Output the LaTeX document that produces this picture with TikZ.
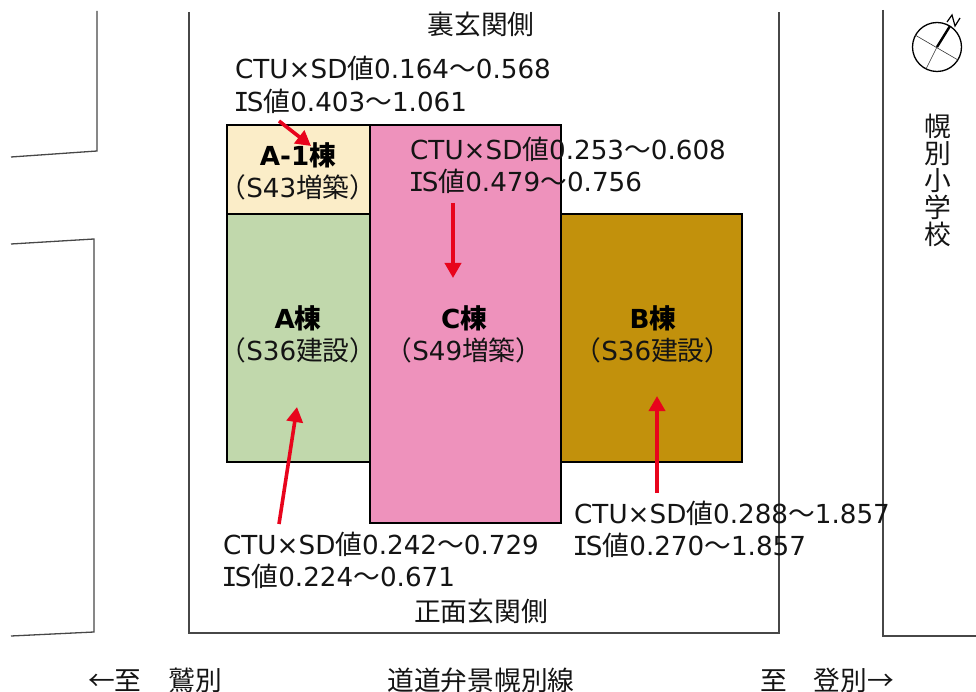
\documentclass[tikz,border=0pt]{standalone}
\usepackage{fontspec}
\setmainfont{DejaVu Sans}
\newfontfamily\jpf[Scale=1.02]{Noto Sans CJK JP}
\newfontfamily\monoI{DejaVu Sans Mono}
\newcommand{\J}[1]{{\jpf #1}}
\newcommand{\IS}{\kern-1.5pt{\monoI I}\kern-2.5ptS}
\usetikzlibrary{arrows.meta}
\definecolor{ink}{gray}{0.08}
\definecolor{redline}{RGB}{232,4,28}
\tikzset{
  bldg/.style={draw=black,line width=2.8pt,inner sep=0pt},
  site/.style={draw=black!72,line width=1.3pt},
  lbl/.style={anchor=base west,inner sep=0pt,font=\fontsize{26.2}{30}\selectfont,text=ink},
  ctr/.style={anchor=base,inner sep=0pt,font=\fontsize{26.2}{30}\selectfont,text=ink},
  bname/.style={anchor=base,inner sep=0pt,font=\fontsize{26.2}{30}\selectfont\bfseries,text=black},
  bsub/.style={anchor=base,inner sep=0pt,font=\fontsize{26.2}{30}\selectfont,text=ink},
  redarr/.style={draw=redline,line width=3.6pt,-{Triangle[length=15pt,width=16pt]}},
}
\begin{document}
\begin{tikzpicture}[x=1pt,y=-1pt]
\useasboundingbox (0,0) rectangle (976,692);
% site and road edges
\draw[site] (97,11) -- (97,151) -- (11,157);
\draw[site] (11,244) -- (94,239) -- (94,632) -- (11,636);
\draw[site] (189,12) -- (189,633) -- (779,633) -- (779,12);
\draw[site] (883,10) -- (883,636) -- (976,636);
% buildings
\filldraw[bldg,fill={rgb,255:red,251;green,237;blue,200}] (227,125) rectangle (370,214);
\filldraw[bldg,fill={rgb,255:red,193;green,216;blue,172}] (227,214) rectangle (370,462);
\filldraw[bldg,fill={rgb,255:red,194;green,145;blue,12}] (561,214) rectangle (742,462);
\filldraw[bldg,fill={rgb,255:red,238;green,146;blue,188}] (370,125) rectangle (561,523);
\node[bname] (a1n) at (298,166) {A-1\J{棟}};
\node[bsub] (a1s) at (298,198) {\J{（}S43\J{増築）}};
\node[bname] (an) at (298,328) {A\J{棟}};
\node[bsub] (as) at (298,360) {\J{（}S36\J{建設）}};
\node[bname] (cn) at (464,328) {C\J{棟}};
\node[bsub] (cs) at (464,360) {\J{（}S49\J{増築）}};
\node[bname] (bn) at (653,328) {B\J{棟}};
\node[bsub] (bs) at (653,360) {\J{（}S36\J{建設）}};
% value labels
\node[lbl] (t1) at (235,79) {CTU×SD\J{値}0.164\J{～}0.568};
\node[lbl] (t1b) at (235,112) {\IS\J{値}0.403\J{～}1.061};
\node[lbl] (t2) at (410,160) {CTU×SD\J{値}0.253\J{～}0.608};
\node[lbl] (t2b) at (410,192) {\IS\J{値}0.479\J{～}0.756};
\node[lbl] (t3) at (223,554) {CTU×SD\J{値}0.242\J{～}0.729};
\node[lbl] (t3b) at (223,586) {\IS\J{値}0.224\J{～}0.671};
\node[lbl] (t4) at (574,523) {CTU×SD\J{値}0.288\J{～}1.857};
\node[lbl] (t4b) at (574,555) {\IS\J{値}0.270\J{～}1.857};
% arrows
\coordinate (r1a) at (279,121); \coordinate (r1b) at (311,146);
\coordinate (r2a) at (453,203); \coordinate (r2b) at (453,278);
\coordinate (r3a) at (279,524); \coordinate (r3b) at (297,407);
\coordinate (r4a) at (657,493); \coordinate (r4b) at (657,396);
\draw[redarr] (r1a) -- (r1b);
\draw[redarr] (r2a) -- (r2b);
\draw[redarr] (r3a) -- (r3b);
\draw[redarr] (r4a) -- (r4b);
% street labels
\node[ctr] (back) at (481,35) {\J{裏玄関側}};
\node[ctr] (front) at (481,621) {\J{正面玄関側}};
\node[ctr] (road) at (481,690) {\J{道道弁景幌別線}};
\node[ctr] (west) at (155,690) {\J{←至　鷲別}};
\node[ctr] (east) at (827,690) {\J{至　登別→}};
\node[anchor=north,inner sep=0pt,align=center,font=\fontsize{26.2}{27}\selectfont,text=ink] (school) at (938,114) {\J{幌}\\\J{別}\\\J{小}\\\J{学}\\\J{校}};
% north mark
\coordinate (nc) at (937,47);
\draw[line width=1.3pt] (nc) circle (24.5);
\draw[line width=.6pt,black!80] (915,35) -- (958,60);
\draw[line width=.6pt,black!80] (926,69) -- (nc);
\draw[line width=2.4pt] (nc) -- (950,26);
\draw[line width=1.2pt] (947,22) -- (952,15) -- (955,26) -- (960,18);
\end{tikzpicture}
\end{document}
